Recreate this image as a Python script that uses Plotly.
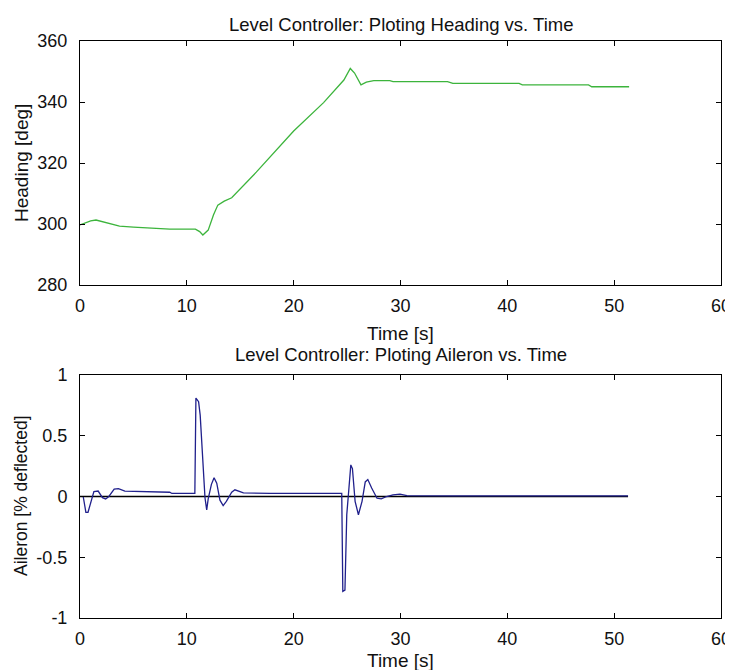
import plotly.graph_objects as go

# Heading data
t_head = [0, 0.5, 1.0, 1.5, 2.2, 3.0, 3.7, 5.0, 6.5, 8.4, 10.8, 11.2, 11.5, 12.0, 12.5,
          12.9, 13.5, 14.2, 16.5, 20.0, 22.8, 24.7, 25.3, 25.7, 26.3, 26.8, 27.5, 28.1,
          29.0, 29.3, 34.4, 34.9, 41.1, 41.4, 47.6, 47.9, 51.4]
heading = [299.7, 300.4, 301.0, 301.3, 300.7, 299.8, 299.3, 299.0, 298.7, 298.3, 298.3,
           297.5, 296.4, 298.0, 303.0, 306.2, 307.5, 308.6, 317.0, 330.5, 339.8, 347.2,
           351.0, 349.5, 345.6, 346.5, 347.0, 347.0, 347.0, 346.7, 346.7, 346.1, 346.1,
           345.6, 345.6, 345.0, 345.0]

# Aileron data
t_ail = [0.3, 0.55, 0.75, 1.0, 1.3, 1.7, 2.1, 2.4, 2.7, 3.2, 3.6, 4.2, 6.0, 8.4, 8.6,
         10.75, 10.85, 11.1, 11.25, 11.4, 11.55, 11.7, 11.86, 12.0, 12.3, 12.55, 12.8,
         13.1, 13.4, 13.7, 14.2, 14.5, 15.3, 17.8, 24.5, 24.6, 24.8, 24.97, 25.1, 25.35,
         25.5, 25.75, 26.06, 26.4, 26.7, 26.94, 27.3, 27.8, 28.2, 28.7, 29.3, 29.95,
         30.6, 35.0, 51.3]
aileron = [0.0, -0.13, -0.13, -0.05, 0.04, 0.045, -0.01, -0.02, 0.0, 0.06, 0.065, 0.045,
           0.04, 0.035, 0.025, 0.025, 0.81, 0.78, 0.67, 0.42, 0.2, -0.01, -0.11, -0.02,
           0.1, 0.155, 0.11, -0.03, -0.075, -0.04, 0.035, 0.055, 0.03, 0.025, 0.025,
           -0.78, -0.77, -0.15, -0.01, 0.26, 0.23, -0.04, -0.15, -0.04, 0.12, 0.14, 0.07,
           -0.014, -0.02, 0.0, 0.014, 0.02, 0.008, 0.005, 0.005]

t_ref = [0, 51.3]
ref = [0, 0]

x_ticks = [0, 10, 20, 30, 40, 50, 60]
head_ticks = [280, 300, 320, 340, 360]
ail_ticks = [-1, -0.5, 0, 0.5, 1]
ail_labels = ["-1", "-0.5", "0", "0.5", "1"]

FONT = "Liberation Sans, Arial, sans-serif"
OFF = 8                      # page body margin of the html page
W, H = 733 - OFF, 670 - OFF
L = 80 - OFF
R = W - (721 - OFF)
PW = W - L - R


def py(px):
    return 1 - (px - OFF) / H


def pxx(px):
    return (px - OFF - L) / PW


fig = go.Figure()
fig.add_trace(go.Scatter(x=t_head, y=heading, mode="lines",
                         line=dict(color="#3cb43c", width=1.3),
                         xaxis="x", yaxis="y", showlegend=False))
fig.add_trace(go.Scatter(x=t_ref, y=ref, mode="lines",
                         line=dict(color="#000000", width=1.3),
                         xaxis="x2", yaxis="y2", showlegend=False))
fig.add_trace(go.Scatter(x=t_ail, y=aileron, mode="lines",
                         line=dict(color="#20208c", width=1.3),
                         xaxis="x2", yaxis="y2", showlegend=False))

tick_font = dict(family=FONT, size=18, color="#111")
axis_common = dict(showgrid=False, zeroline=False, showline=True, linecolor="black",
                   linewidth=1, mirror="ticks", ticks="inside", ticklen=5,
                   tickcolor="black", tickfont=tick_font, automargin=False)


def ann(text, x, y, size, angle=0):
    return dict(text=text, x=x, y=y, xref="paper", yref="paper", showarrow=False,
                xanchor="center", yanchor="middle", textangle=angle,
                font=dict(family=FONT, size=size, color="#111"))


fig.update_layout(
    width=W, height=H,
    margin=dict(l=L, r=R, t=0, b=0),
    paper_bgcolor="white", plot_bgcolor="white",
    font=dict(family=FONT, size=18, color="#111"),
    xaxis=dict(domain=[0, 1], range=[0, 60], tickvals=x_ticks, anchor="y",
               ticklabelstandoff=4, **axis_common),
    yaxis=dict(domain=[py(285), py(41)], range=[280, 360], tickvals=head_ticks,
               anchor="x", ticklabelstandoff=8, **axis_common),
    xaxis2=dict(domain=[0, 1], range=[0, 60], tickvals=x_ticks, anchor="y2",
                ticklabelstandoff=4, **axis_common),
    yaxis2=dict(domain=[py(618), py(375)], range=[-1, 1], tickvals=ail_ticks,
                ticktext=ail_labels, anchor="x2", ticklabelstandoff=8, **axis_common),
    annotations=[
        ann("Level Controller: Ploting Heading vs. Time", 0.5, py(24), 18.5),
        ann("Time [s]", 0.5, py(333), 19),
        ann("Heading [deg]", pxx(21), py(163), 19, -90),
        ann("Level Controller: Ploting Aileron vs. Time", 0.5, py(354), 18.5),
        ann("Time [s]", 0.5, py(660), 19),
        ann("Aileron [% deflected]", pxx(21), py(496), 17.5, -90),
    ],
)

fig.write_html("out.html")
